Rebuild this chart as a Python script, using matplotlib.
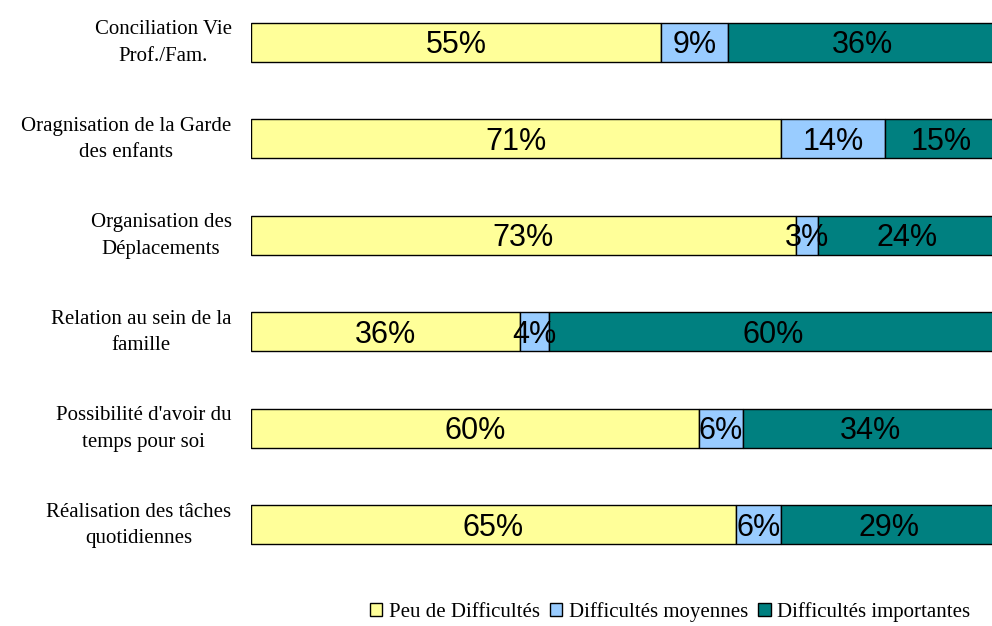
import matplotlib
matplotlib.use("Agg")
import matplotlib.pyplot as plt
import matplotlib.transforms as mtransforms
import numpy as np

categories = [
    "Conciliation Vie\nProf./Fam.",
    "Oragnisation de la Garde\ndes enfants",
    "Organisation des\nDéplacements",
    "Relation au sein de la\nfamille",
    "Possibilité d'avoir du\ntemps pour soi",
    "Réalisation des tâches\nquotidiennes",
]
peu = [55, 71, 73, 36, 60, 65]
moyennes = [9, 14, 3, 4, 6, 6]
importantes = [36, 15, 24, 60, 34, 29]
series_names = ["Peu de Difficultés", "Difficultés moyennes", "Difficultés importantes"]
colors = ["#FFFF99", "#99CCFF", "#008080"]

W, H = 992, 626
fig = plt.figure(figsize=(W / 100, H / 100), dpi=100)
# plot area runs a bit past the picture edges, as in the source
ax = fig.add_axes([251 / W, 1 - 573 / H, 746 / W, 579 / H])

y = np.arange(len(categories))
left = np.zeros(len(categories))
for vals, name, col in zip([peu, moyennes, importantes], series_names, colors):
    vals = np.array(vals, dtype=float)
    ax.barh(y, vals, left=left, height=0.4, color=col, edgecolor="black",
            linewidth=1.0, label=name)
    for yi, l, v in zip(y, left, vals):
        ax.annotate(f"{int(v)}%", (l + v / 2, yi), xytext=(0, -2),
                    textcoords="offset points", ha="center", va="center",
                    fontsize=22, family="Liberation Sans", color="black")
    left += vals

ax.set_xlim(0, 100)
ax.set_ylim(len(categories) - 0.5, -0.5)
ax.set_yticks(y)
ax.set_yticklabels(categories, family="Liberation Serif", fontsize=15,
                   linespacing=1.55, ha="right", multialignment="center")
ax.tick_params(axis="y", length=0, pad=14)
# nudge category labels up a little, like the source
shift = mtransforms.ScaledTranslation(0, 4 / 72, fig.dpi_scale_trans)
for lbl in ax.get_yticklabels():
    lbl.set_transform(lbl.get_transform() + shift)
ax.set_xticks([])
for s in ax.spines.values():
    s.set_visible(False)

fig.legend(loc="center", bbox_to_anchor=(670 / W, 1 - 612 / H), ncol=3,
           frameon=False, handlelength=0.6, handleheight=0.6, handletextpad=0.3,
           columnspacing=0.5, prop={"family": "Liberation Serif", "size": 15})

fig.savefig("out.png", dpi=100)
